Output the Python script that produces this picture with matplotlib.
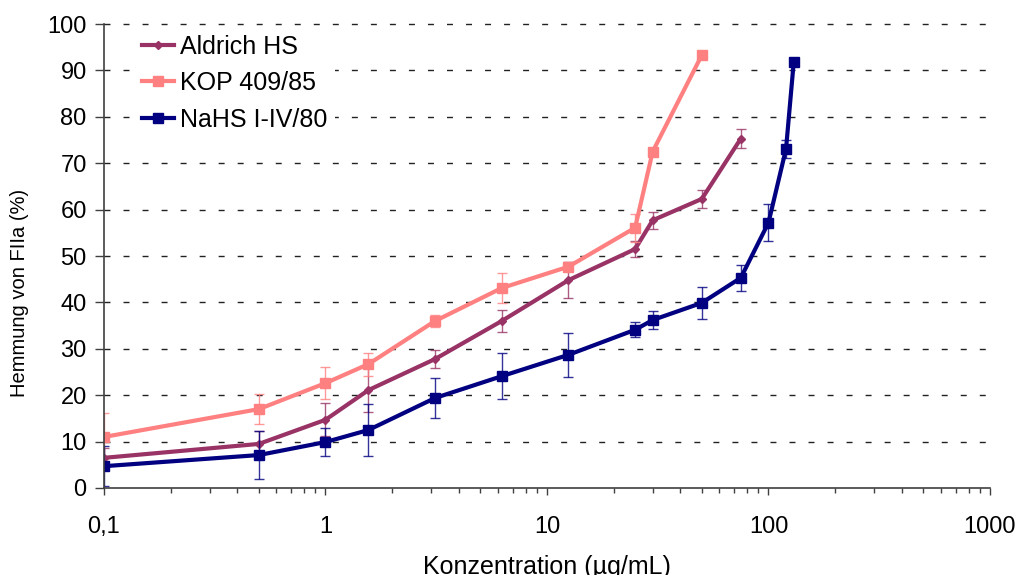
import matplotlib
matplotlib.use('Agg')
import matplotlib.pyplot as plt
from matplotlib.ticker import FixedLocator, FuncFormatter, LogLocator, NullFormatter

plt.rcParams['font.family'] = ['Liberation Sans', 'DejaVu Sans']

# data
conc_aldrich = [0.1, 0.5, 1, 1.5625, 3.125, 6.25, 12.5, 25, 30, 50, 75]
aldrich = [6.5, 9.5, 14.7, 21.1, 27.8, 36.0, 44.8, 51.5, 57.7, 62.3, 75.3]
aldrich_err = [2.2, 2.8, 3.6, 4.7, 2.0, 2.4, 3.9, 1.8, 1.8, 2.0, 2.0]

conc_kop = [0.1, 0.5, 1, 1.5625, 3.125, 6.25, 12.5, 25, 30, 50]
kop = [11.0, 17.0, 22.6, 26.7, 36.0, 43.1, 47.7, 56.1, 72.5, 93.3]
kop_err = [5.2, 3.2, 3.5, 2.5, 1.2, 3.2, 1.0, 3.0, 0.5, 0.3]

conc_nahs = [0.1, 0.5, 1, 1.5625, 3.125, 6.25, 12.5, 25, 30, 50, 75, 100, 120, 130]
nahs = [4.7, 7.1, 9.9, 12.5, 19.4, 24.1, 28.7, 34.1, 36.2, 39.9, 45.3, 57.2, 73.1, 91.8]
nahs_err = [4.3, 5.1, 3.0, 5.5, 4.4, 5.0, 4.7, 1.6, 2.0, 3.5, 2.8, 3.9, 2.0, 0.3]

x_ticks = [0.1, 1, 10, 100, 1000]
x_tick_labels = ['0,1', '1', '10', '100', '1000']
y_ticks = list(range(0, 101, 10))

fig = plt.figure(figsize=(10.2, 5.75), dpi=100)
ax = fig.add_axes([104 / 1020, 1 - 488 / 575, 886 / 1020, 464 / 575])

series = [
    ('Aldrich HS', conc_aldrich, aldrich, aldrich_err, '#993366', 'D', 4.5),
    ('KOP 409/85', conc_kop, kop, kop_err, '#FF8080', 's', 6.5),
    ('NaHS I-IV/80', conc_nahs, nahs, nahs_err, '#000080', 's', 6.5),
]
for name, xs, ys, errs, col, mk, ms in series:
    ax.errorbar(xs, ys, yerr=errs, fmt='none', ecolor=col, elinewidth=1,
                capsize=3.5, capthick=1, alpha=0.8)
    ax.plot(xs, ys, color=col, lw=3, marker=mk, markersize=ms, label=name)

ax.set_xscale('log')
ax.set_xlim(0.1, 1000)
ax.set_ylim(0, 100)
ax.xaxis.set_major_locator(FixedLocator(x_ticks))
ax.xaxis.set_major_formatter(FuncFormatter(lambda v, p: x_tick_labels[x_ticks.index(v)] if v in x_ticks else ''))
ax.xaxis.set_minor_locator(LogLocator(base=10, subs=range(2, 10)))
ax.xaxis.set_minor_formatter(NullFormatter())
ax.set_yticks(y_ticks)

# dashed gridlines; the top one stays above the legend box
for y in y_ticks[1:]:
    ax.axhline(y, color='#222222', lw=1, dashes=(4.3, 9.4), zorder=0 if y < 100 else 6, clip_on=False)

for s in ['top', 'right']:
    ax.spines[s].set_visible(False)
for s in ['left', 'bottom']:
    ax.spines[s].set_color('#404040')
    ax.spines[s].set_linewidth(1.2)

ax.tick_params(axis='y', direction='out', length=6.5, width=1, labelsize=17, pad=6, color='#404040')
ax.tick_params(axis='x', which='major', direction='out', length=5, width=1, labelsize=17, pad=15, color='#404040')
ax.tick_params(axis='x', which='minor', direction='out', length=3.5, width=1, color='#404040')

ax.set_xlabel('Konzentration (µg/mL)', fontsize=18, labelpad=12.5)
ax.set_ylabel('Hemmung von FIIa (%)', fontsize=14.5, labelpad=6)
ax.yaxis.set_label_coords(-0.085, 0.42)

leg = ax.legend(loc='upper left', bbox_to_anchor=(0.034, 0.993), frameon=True, fontsize=18,
                handlelength=1.3, handletextpad=0.25, labelspacing=0.5, borderaxespad=0,
                borderpad=0.3, fancybox=False, framealpha=1)
leg.get_frame().set_facecolor('white')
leg.get_frame().set_edgecolor('none')

fig.savefig('out.png', dpi=100)
